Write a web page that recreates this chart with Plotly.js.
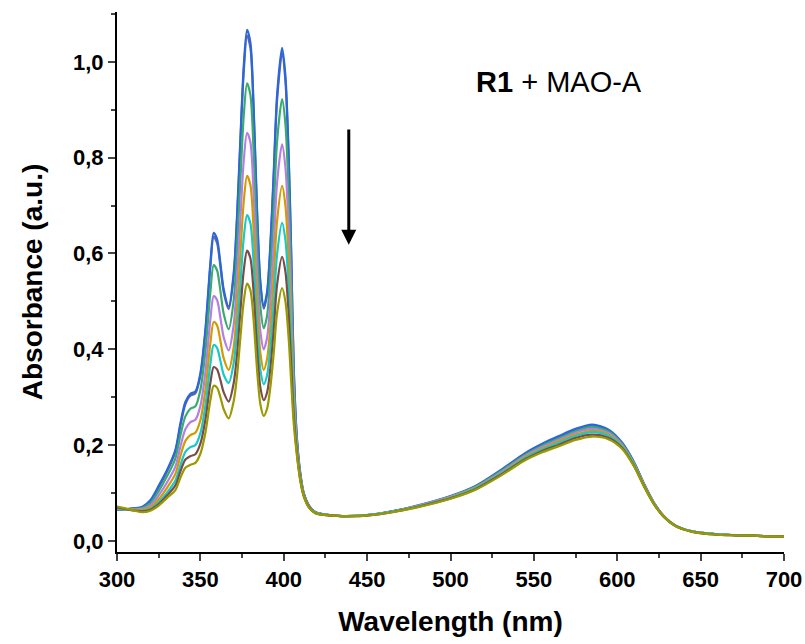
<!DOCTYPE html>
<html>
<head>
<meta charset="utf-8">
<script src="https://cdn.plot.ly/plotly-3.0.1.min.js"></script>
<style>html,body{margin:0;padding:0;background:#fff;}#chart{width:805px;height:644px;}</style>
</head>
<body>
<div id="chart"></div>
<script>
const wavelength = [300,305,310,315,320,325,330,335,338,341,344,347,350,353,356,358,360,362,364,367,370,372,374,376,378,380,382,384,386,388,390,392,394,396,399,401,403,404.5,406,408,410,412,415,419,425,435,450,465,480,500,515,530,545,555,565,575,585,595,603,610,616,622,628,635,645,660,680,700];

const absBlue = [0.065,0.066,0.068,0.071,0.085,0.115,0.148,0.19,0.245,0.29,0.307,0.312,0.35,0.44,0.58,0.643,0.63,0.58,0.525,0.489,0.56,0.68,0.84,0.99,1.067,1.04,0.90,0.69,0.54,0.49,0.52,0.62,0.77,0.93,1.029,0.97,0.80,0.60,0.36,0.21,0.14,0.10,0.075,0.06,0.055,0.052,0.054,0.062,0.074,0.094,0.115,0.148,0.184,0.203,0.219,0.234,0.243,0.232,0.205,0.165,0.12,0.08,0.052,0.032,0.02,0.014,0.011,0.009];
const absSlate = [0.065,0.066,0.068,0.070,0.083,0.112,0.145,0.186,0.24,0.285,0.303,0.308,0.345,0.435,0.573,0.635,0.622,0.573,0.519,0.484,0.553,0.672,0.83,0.979,1.055,1.029,0.89,0.683,0.535,0.485,0.515,0.613,0.762,0.92,1.018,0.96,0.79,0.59,0.355,0.207,0.138,0.099,0.074,0.06,0.055,0.052,0.054,0.062,0.073,0.093,0.114,0.146,0.182,0.201,0.217,0.232,0.241,0.230,0.203,0.164,0.119,0.079,0.051,0.032,0.02,0.014,0.011,0.009];
const absGreen = [0.066,0.066,0.067,0.069,0.079,0.104,0.135,0.172,0.22,0.26,0.276,0.281,0.315,0.395,0.52,0.576,0.565,0.522,0.474,0.442,0.503,0.61,0.753,0.887,0.955,0.931,0.806,0.62,0.488,0.444,0.47,0.558,0.69,0.834,0.922,0.87,0.72,0.54,0.335,0.2,0.135,0.098,0.074,0.06,0.055,0.052,0.054,0.062,0.073,0.093,0.113,0.145,0.18,0.199,0.214,0.229,0.238,0.228,0.202,0.163,0.119,0.079,0.051,0.032,0.02,0.014,0.011,0.009];
const absPurple = [0.067,0.066,0.066,0.067,0.074,0.095,0.122,0.155,0.197,0.233,0.248,0.253,0.282,0.352,0.463,0.511,0.503,0.466,0.425,0.398,0.452,0.546,0.673,0.793,0.852,0.832,0.72,0.554,0.437,0.4,0.424,0.502,0.618,0.748,0.828,0.78,0.645,0.48,0.31,0.195,0.132,0.097,0.073,0.059,0.055,0.052,0.054,0.061,0.073,0.092,0.112,0.143,0.178,0.196,0.211,0.226,0.234,0.225,0.2,0.161,0.118,0.079,0.051,0.031,0.02,0.014,0.011,0.009];
const absOrange = [0.068,0.066,0.065,0.065,0.07,0.087,0.111,0.14,0.177,0.209,0.221,0.226,0.252,0.315,0.413,0.457,0.45,0.418,0.381,0.357,0.405,0.488,0.6,0.708,0.762,0.743,0.645,0.496,0.392,0.357,0.38,0.448,0.552,0.668,0.741,0.7,0.58,0.435,0.29,0.19,0.13,0.096,0.072,0.059,0.055,0.052,0.054,0.061,0.072,0.091,0.111,0.141,0.176,0.193,0.208,0.222,0.23,0.222,0.198,0.16,0.117,0.078,0.051,0.031,0.02,0.014,0.011,0.009];
const absCyan = [0.069,0.066,0.064,0.063,0.067,0.081,0.101,0.126,0.158,0.186,0.196,0.2,0.225,0.282,0.369,0.409,0.403,0.376,0.347,0.33,0.372,0.44,0.537,0.632,0.68,0.663,0.577,0.448,0.357,0.327,0.346,0.405,0.494,0.598,0.664,0.628,0.525,0.4,0.275,0.185,0.128,0.095,0.071,0.059,0.055,0.052,0.054,0.061,0.072,0.09,0.11,0.14,0.174,0.191,0.205,0.219,0.227,0.219,0.196,0.159,0.116,0.078,0.05,0.031,0.02,0.014,0.011,0.009];
const absBrown = [0.07,0.067,0.064,0.062,0.065,0.077,0.095,0.116,0.145,0.17,0.177,0.181,0.203,0.253,0.33,0.363,0.358,0.336,0.31,0.291,0.33,0.39,0.48,0.564,0.606,0.59,0.515,0.4,0.32,0.294,0.31,0.362,0.442,0.535,0.593,0.562,0.47,0.365,0.26,0.18,0.126,0.094,0.071,0.058,0.054,0.052,0.053,0.06,0.071,0.089,0.108,0.138,0.171,0.188,0.201,0.215,0.222,0.215,0.194,0.157,0.115,0.077,0.05,0.031,0.019,0.013,0.011,0.009];
const absOlive = [0.072,0.068,0.064,0.06,0.063,0.074,0.09,0.106,0.132,0.153,0.159,0.163,0.182,0.226,0.294,0.324,0.32,0.3,0.275,0.256,0.292,0.345,0.425,0.5,0.537,0.523,0.458,0.357,0.285,0.261,0.276,0.322,0.393,0.476,0.528,0.5,0.42,0.33,0.245,0.175,0.124,0.093,0.07,0.058,0.054,0.052,0.053,0.06,0.07,0.088,0.107,0.136,0.169,0.185,0.198,0.211,0.218,0.212,0.192,0.156,0.114,0.077,0.05,0.031,0.019,0.013,0.011,0.009];

const seriesList = [absSlate, absBlue, absGreen, absPurple, absOrange, absCyan, absBrown, absOlive];
const seriesColors = ['#6a62a6','#2a67d8','#3aab6e','#b57ee6','#d49b00','#17c9c9','#7a4b4b','#999900'];

const yTickVals = [0, 0.2, 0.4, 0.6, 0.8, 1.0];
const xTickVals = [300, 350, 400, 450, 500, 550, 600, 650, 700];

const traces = seriesList.map((ys, i) => ({
  x: wavelength, y: ys, type: 'scatter', mode: 'lines',
  line: {color: seriesColors[i], width: 2.2, shape: 'spline', smoothing: 0.8},
  showlegend: false, hoverinfo: 'skip'
}));

const fontBold = 'Liberation Sans, Arial, sans-serif';

const layout = {
  width: 805, height: 644,
  margin: {l: 117, r: 21, t: 12, b: 92},
  paper_bgcolor: '#fff', plot_bgcolor: '#fff',
  separators: ',.',
  showlegend: false,
  font: {family: fontBold, color: '#000'},
  xaxis: {
    range: [300, 700], tickvals: xTickVals, ticks: 'outside', ticklen: 7, tickwidth: 2,
    showline: true, linewidth: 2, linecolor: '#000', showgrid: false, zeroline: false,
    minor: {dtick: 25, ticklen: 4, tickwidth: 2, ticks: 'outside', showgrid: false},
    tickfont: {size: 22, family: fontBold, weight: 'bold'},
    title: {text: '<b>Wavelength (nm)</b>', font: {size: 28, family: fontBold}, standoff: 20}
  },
  yaxis: {
    range: [-0.023, 1.104], tickvals: yTickVals, tickformat: '.1f', ticks: 'outside', ticklen: 7, tickwidth: 2,
    showline: true, linewidth: 2, linecolor: '#000', showgrid: false, zeroline: false,
    minor: {dtick: 0.1, ticklen: 4, tickwidth: 2, ticks: 'outside', showgrid: false},
    tickfont: {size: 22, family: fontBold, weight: 'bold'},
    title: {text: '<b>Absorbance (a.u.)</b>', font: {size: 28, family: fontBold}, standoff: 22}
  },
  annotations: [
    {x: 514, y: 0.958, xref: 'x', yref: 'y', xanchor: 'left', yanchor: 'middle', showarrow: false,
     text: '<b>R1</b> + MAO-A', font: {size: 29, family: fontBold, color: '#000'}},
    {x: 439, y: 0.618, ax: 439, ay: 0.862, xref: 'x', yref: 'y', axref: 'x', ayref: 'y',
     showarrow: true, arrowhead: 2, arrowsize: 1, arrowwidth: 3, arrowcolor: '#000', text: ''}
  ]
};

Plotly.newPlot('chart', traces, layout, {displayModeBar: false, staticPlot: true});
</script>
</body>
</html>
